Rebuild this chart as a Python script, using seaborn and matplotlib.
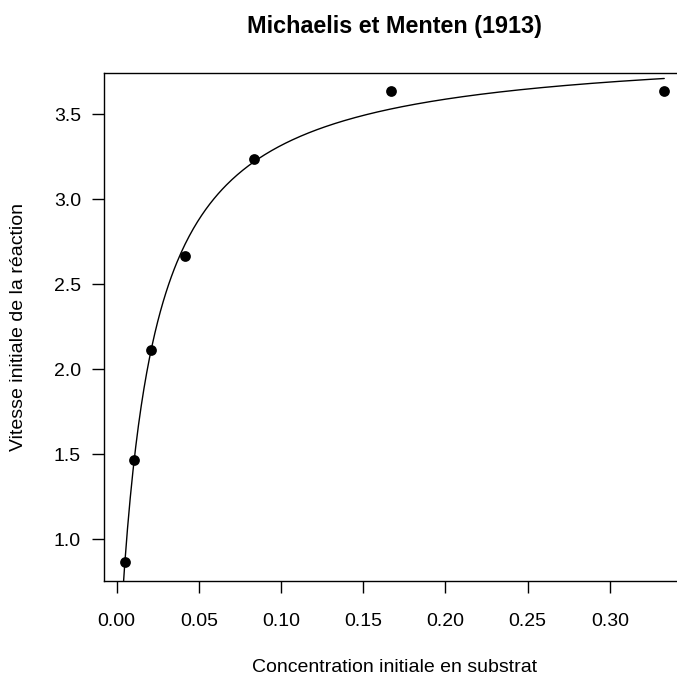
import matplotlib
matplotlib.use("Agg")
import matplotlib.pyplot as plt
import numpy as np
import pandas as pd
import seaborn as sns

# Michaelis & Menten (1913) data
concentration = [0.3330, 0.1670, 0.0833, 0.0416, 0.0208, 0.0104, 0.0052]
vitesse = [3.636, 3.636, 3.236, 2.666, 2.114, 1.466, 0.866]

x_ticks = [0.00, 0.05, 0.10, 0.15, 0.20, 0.25, 0.30]
y_ticks = [1.0, 1.5, 2.0, 2.5, 3.0, 3.5]


def fit_mm(s, v):
    # nls-like Gauss-Newton fit of v = Vm * s / (K + s)
    s = np.asarray(s)
    v = np.asarray(v)
    slope, icpt = np.polyfit(1 / s, 1 / v, 1)
    vm, k = 1 / icpt, slope / icpt
    for _ in range(50):
        pred = vm * s / (k + s)
        J = np.column_stack([s / (k + s), -vm * s / (k + s) ** 2])
        step, *_ = np.linalg.lstsq(J, v - pred, rcond=None)
        vm, k = vm + step[0], k + step[1]
    return vm, k


vm, km = fit_mm(concentration, vitesse)
s_grid = np.linspace(0, max(concentration), 400)
curve = pd.DataFrame({"s": s_grid, "v": vm * s_grid / (km + s_grid)})
pts = pd.DataFrame({"s": concentration, "v": vitesse})

sns.set_theme(style="ticks")
plt.rcParams["font.family"] = ["Liberation Sans", "DejaVu Sans"]

fig = plt.figure(figsize=(6.77, 6.78), dpi=100)
W, H = 677, 678
ax = fig.add_axes([103.5 / W, 1 - 581 / H, (685.8 - 103.5) / W, (581 - 72.5) / H])

sns.lineplot(data=curve, x="s", y="v", ax=ax, color="black", linewidth=1.0)
sns.scatterplot(data=pts, x="s", y="v", ax=ax, color="black", s=60, linewidth=0, zorder=3)

xr = max(concentration) - min(concentration)
yr = max(vitesse) - min(vitesse)
ax.set_xlim(min(concentration) - 0.04 * xr, max(concentration) + 0.04 * xr)
ax.set_ylim(min(vitesse) - 0.04 * yr, max(vitesse) + 0.04 * yr)
ax.set_xticks(x_ticks)
ax.set_xticklabels([f"{t:.2f}" for t in x_ticks])
ax.set_yticks(y_ticks)
ax.set_yticklabels([f"{t:.1f}" for t in y_ticks])

for side in ["top", "left", "bottom"]:
    ax.spines[side].set_visible(True)
    ax.spines[side].set_color("black")
    ax.spines[side].set_linewidth(1.0)
ax.spines["right"].set_visible(False)
ax.tick_params(axis="both", length=8.3, width=1.0, color="black", labelsize=14, labelcolor="black")
ax.tick_params(axis="x", pad=14.5)
ax.tick_params(axis="y", pad=8)

ax.set_xlabel("")
ax.set_ylabel("")
fig.text(394.6 / W, 1 - 672 / H, "Concentration initiale en substrat", ha="center", va="baseline",
         fontsize=14, color="black")
fig.text(19 / W, 1 - 326.8 / H, "Vitesse initiale de la réaction", ha="center", va="center",
         rotation=90, fontsize=14, color="black")
fig.text(394.6 / W, 1 - 26 / H, "Michaelis et Menten (1913)", ha="center", va="center",
         fontsize=16.8, fontweight="bold", color="black")

fig.savefig("out.png", dpi=100)
